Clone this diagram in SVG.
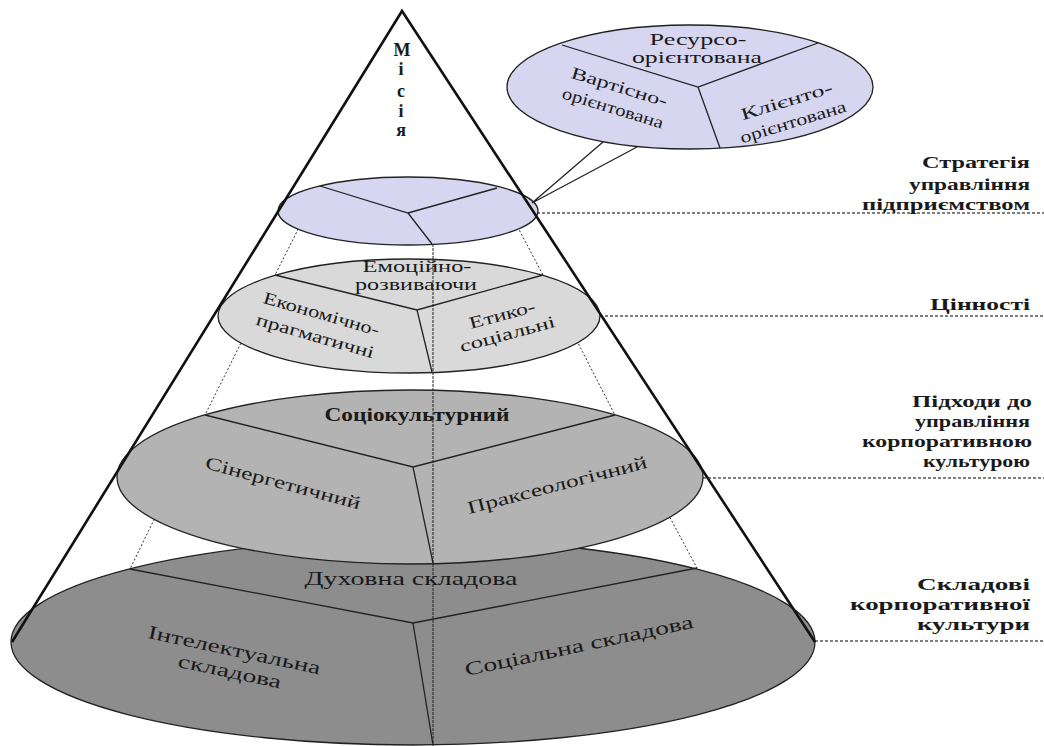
<svg xmlns="http://www.w3.org/2000/svg" width="1044" height="746" viewBox="0 0 1044 746">
<style>
text{font-family:"Liberation Serif","Times New Roman",serif;fill:#1a1a1a}
.e{stroke:#222;stroke-width:1.3}
.div{fill:none;stroke:#222;stroke-width:1.3}
.dot{fill:none;stroke:#333;stroke-width:1;stroke-dasharray:2 2}
.lead{fill:none;stroke:#555;stroke-width:1.3;stroke-dasharray:3 2}
.cone{fill:none;stroke:#111;stroke-width:2.6;stroke-linejoin:miter}
.lbl{font-size:16px;font-weight:bold;text-anchor:end}
.t17{font-size:17px;text-anchor:middle}
.t18{font-size:18px;text-anchor:middle}
.t19{font-size:19px;text-anchor:middle}
.b{font-weight:bold}
.m{font-size:18px;font-weight:bold;text-anchor:middle}
</style>
<rect width="1044" height="746" fill="#fff"/>
<g id="connectors">
<path class="dot" d="M320,186 L275,275 L205,415 L130,569"/>
<path class="dot" d="M497,188 L543,275 L615,415 L697,568"/>
<path class="lead" d="M537,213 H1044 M600,316 H1044 M703,478 H1044 M815,641 H1044"/>
</g>
<g id="level-components">
<ellipse class="e" cx="413" cy="642" rx="402" ry="103" fill="#8d8d8d"/>
<path class="div" d="M130,569 L413,623 L697,568 M413,623 L433,745"/>
<text class="t19" x="411" y="585" textLength="213" lengthAdjust="spacingAndGlyphs">Духовна складова</text>
<g transform="translate(232,661) rotate(12)">
<text class="t19" x="0" y="-5" textLength="176" lengthAdjust="spacingAndGlyphs">Інтелектуальна</text>
<text class="t19" x="0" y="17" textLength="105" lengthAdjust="spacingAndGlyphs">складова</text>
</g>
<text class="t19" transform="translate(579,646) rotate(-12)" x="0" y="6" textLength="233" lengthAdjust="spacingAndGlyphs">Соціальна складова</text>
</g>
<g id="level-approaches">
<ellipse class="e" cx="410" cy="477" rx="293" ry="87" fill="#b3b3b3"/>
<path class="div" d="M205,415 L413,467 L615,415 M413,467 L433,563"/>
<text class="t18 b" x="417" y="421" textLength="185" lengthAdjust="spacingAndGlyphs">Соціокультурний</text>
<text class="t18" transform="translate(283,483) rotate(15)" x="0" y="6" textLength="160" lengthAdjust="spacingAndGlyphs">Сінергетичний</text>
<text class="t18" transform="translate(557,485) rotate(-14.5)" x="0" y="6" textLength="185" lengthAdjust="spacingAndGlyphs">Праксеологічний</text>
</g>
<g id="level-values">
<ellipse class="e" cx="409" cy="316" rx="191" ry="57" fill="#d9d9d9"/>
<path class="div" d="M275,275 L417,310 L543,275 M417,310 L432,372"/>
<text class="t17" x="417" y="272" textLength="109" lengthAdjust="spacingAndGlyphs">Емоційно-</text>
<text class="t17" x="416" y="290" textLength="122" lengthAdjust="spacingAndGlyphs">розвиваючи</text>
<g transform="translate(318,326) rotate(16)">
<text class="t17" x="0" y="-7" textLength="120" lengthAdjust="spacingAndGlyphs">Економічно-</text>
<text class="t17" x="0" y="16" textLength="122" lengthAdjust="spacingAndGlyphs">прагматичні</text>
</g>
<g transform="translate(505,325) rotate(-15)">
<text class="t17" x="0" y="-5" textLength="68" lengthAdjust="spacingAndGlyphs">Етико-</text>
<text class="t17" x="0" y="15" textLength="98" lengthAdjust="spacingAndGlyphs">соціальні</text>
</g>
</g>
<g id="level-strategy">
<ellipse class="e" cx="408" cy="211" rx="130" ry="34" fill="#d6d6f1"/>
<path class="div" d="M320,186 L408,213 L497,188 M408,213 L432,244"/>
</g>
<g id="strategy-bubble">
<path class="div" d="M603,142 L532,203 M637,147 L532,203"/>
<ellipse class="e" cx="690" cy="87" rx="183" ry="62" fill="#d6d6f1"/>
<path class="div" d="M562,45 L698,87 L818,43 M698,87 L720,148"/>
<text class="t17" x="698" y="45" textLength="97" lengthAdjust="spacingAndGlyphs">Ресурсо-</text>
<text class="t17" x="697" y="63" textLength="130" lengthAdjust="spacingAndGlyphs">орієнтована</text>
<g transform="translate(616,98) rotate(17)">
<text class="t17" x="0" y="-6" textLength="100" lengthAdjust="spacingAndGlyphs">Вартісно-</text>
<text class="t17" x="0" y="16" textLength="105" lengthAdjust="spacingAndGlyphs">орієнтована</text>
</g>
<g transform="translate(790,112) rotate(-17)">
<text class="t17" x="0" y="-6" textLength="95" lengthAdjust="spacingAndGlyphs">Клієнто-</text>
<text class="t17" x="0" y="16" textLength="110" lengthAdjust="spacingAndGlyphs">орієнтована</text>
</g>
</g>
<g id="axis">
<line x1="433" y1="244" x2="433" y2="746" stroke="#222" stroke-width="1" stroke-dasharray="3 1"/>
</g>
<g id="cone">
<path class="cone" d="M12,642 L402,11 L815,642"/>
</g>
<g id="mission">
<text class="m" x="402" y="56">М</text>
<text class="m" x="401" y="75">і</text>
<text class="m" x="401" y="97">с</text>
<text class="m" x="401" y="117">і</text>
<text class="m" x="401" y="136">я</text>
</g>
<g id="label-strategy">
<text class="lbl" x="1030" y="168" textLength="108" lengthAdjust="spacingAndGlyphs">Стратегія</text>
<text class="lbl" x="1030" y="190" textLength="121" lengthAdjust="spacingAndGlyphs">управління</text>
<text class="lbl" x="1030" y="210" textLength="168" lengthAdjust="spacingAndGlyphs">підприємством</text>
</g>
<g id="label-values">
<text class="lbl" x="1030" y="310" textLength="100" lengthAdjust="spacingAndGlyphs">Цінності</text>
</g>
<g id="label-approaches">
<text class="lbl" x="1032" y="407" textLength="120" lengthAdjust="spacingAndGlyphs">Підходи до</text>
<text class="lbl" x="1030" y="427" textLength="115" lengthAdjust="spacingAndGlyphs">управління</text>
<text class="lbl" x="1032" y="447" textLength="170" lengthAdjust="spacingAndGlyphs">корпоративною</text>
<text class="lbl" x="1030" y="467" textLength="107" lengthAdjust="spacingAndGlyphs">культурою</text>
</g>
<g id="label-components">
<text class="lbl" x="1030" y="590" textLength="113" lengthAdjust="spacingAndGlyphs">Складові</text>
<text class="lbl" x="1030" y="610" textLength="180" lengthAdjust="spacingAndGlyphs">корпоративної</text>
<text class="lbl" x="1030" y="630" textLength="113" lengthAdjust="spacingAndGlyphs">культури</text>
</g>
</svg>
